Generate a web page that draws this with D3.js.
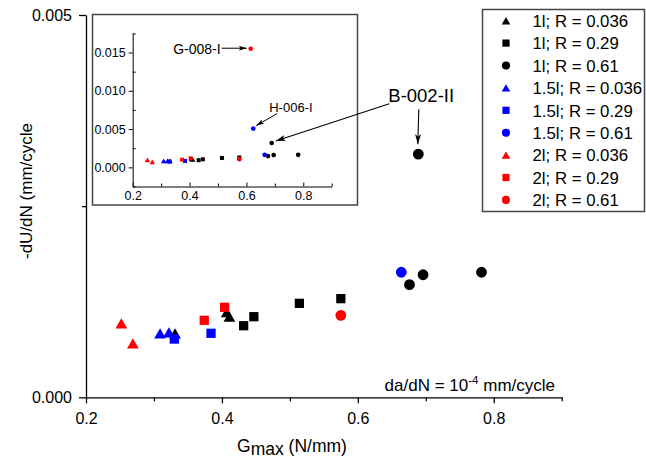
<!DOCTYPE html>
<html><head><meta charset="utf-8">
<script src="https://cdn.jsdelivr.net/npm/d3@7"></script>
<style>
html,body{margin:0;padding:0;background:#fff;}
svg{display:block;font-family:"Liberation Sans",Arial,sans-serif;}
</style></head>
<body>
<svg id="chart" width="646" height="461"></svg>
<script>
// ---- data ----
const seriesNames = ["1l; R = 0.036","1l; R = 0.29","1l; R = 0.61",
                     "1.5l; R = 0.036","1.5l; R = 0.29","1.5l; R = 0.61",
                     "2l; R = 0.036","2l; R = 0.29","2l; R = 0.61"];
const seriesColors = ["#000000","#000000","#000000","#0000ff","#0000ff","#0000ff","#ff0000","#ff0000","#ff0000"];
const seriesShapes = ["triangle","square","circle","triangle","square","circle","triangle","square","circle"];
const s1_036_x = [0.331, 0.407, 0.411];
const s1_036_y = [0.000837, 0.001112, 0.001054];
const s1_029_x = [0.432, 0.447, 0.514, 0.575];
const s1_029_y = [0.000936, 0.001054, 0.001229, 0.00129];
const s1_061_x = [0.676, 0.689, 0.696, 0.782];
const s1_061_y = [0.001473, 0.00318, 0.001603, 0.001635];
const s15_036_x = [0.309, 0.322];
const s15_036_y = [0.000837, 0.00085];
const s15_029_x = [0.330, 0.384];
const s15_029_y = [0.000762, 0.000837];
const s15_061_x = [0.624, 0.664];
const s15_061_y = [0.00507, 0.001635];
const s2_036_x = [0.252, 0.269];
const s2_036_y = [0.000968, 0.000706];
const s2_029_x = [0.374, 0.404];
const s2_029_y = [0.001007, 0.001177];
const s2_061_x = [0.575, 0.615];
const s2_061_y = [0.001072, 0.0155];
const seriesX = [s1_036_x,s1_029_x,s1_061_x,s15_036_x,s15_029_x,s15_061_x,s2_036_x,s2_029_x,s2_061_x];
const seriesY = [s1_036_y,s1_029_y,s1_061_y,s15_036_y,s15_029_y,s15_061_y,s2_036_y,s2_029_y,s2_061_y];
const mainXTicks = [0.2, 0.4, 0.6, 0.8];
const mainXMinor = [0.3, 0.5, 0.7, 0.9];
const mainYTicks = [0, 0.005];
const mainYMinor = [0.0025];
const insetXTicks = [0.2, 0.4, 0.6, 0.8];
const insetXMinor = [0.3, 0.5, 0.7, 0.9];
const insetYTicks = [0, 0.005, 0.010, 0.015];
const insetYMinor = [-0.0025, 0.0025, 0.0075, 0.0125, 0.0175];
// annotations: [series index, point index, label]
const annB = [2, 1, "B-002-II"];
const annG = [8, 1, "G-008-I"];
const annH = [5, 0, "H-006-I"];

const points = [];
seriesX.forEach((xs, si) => xs.forEach((x, i) => points.push({s: si, x: x, y: seriesY[si][i]})));

const svg = d3.select("#chart");
const symType = {triangle: d3.symbolTriangle, square: d3.symbolSquare, circle: d3.symbolCircle};
const symArea = {
  main:   {triangle: 60, square: 86, circle: 92},
  inset:  {triangle: 13, square: 16, circle: 17},
  legend: {triangle: 32, square: 52, circle: 52}
};
function symPath(shape, kind) {
  return d3.symbol(symType[shape], symArea[kind][shape])();
}
function triOffset(shape, kind) {
  if (shape !== "triangle") return 0;
  const y = Math.sqrt(symArea[kind][shape] / (Math.sqrt(3) * 3));
  return y / 2;
}

const defs = svg.append("defs");
function addMarker(id, w, h) {
  defs.append("marker").attr("id", id)
    .attr("viewBox", `0 0 ${w} ${h}`).attr("refX", w).attr("refY", h/2)
    .attr("markerWidth", w).attr("markerHeight", h)
    .attr("markerUnits", "userSpaceOnUse").attr("orient", "auto")
    .append("path").attr("d", `M0,0L${w},${h/2}L0,${h}L${w*0.25},${h/2}Z`).attr("fill", "#000");
}
addMarker("arrBig", 10, 6);
addMarker("arrSmall", 8, 5);

// ---- main chart ----
const x = d3.scaleLinear().domain([0.2, 0.9]).range([86, 561.7]);
const y = d3.scaleLinear().domain([0, 0.005]).range([397.3, 15]);

const gx = svg.append("g").attr("transform", "translate(0,397.3)");
gx.call(d3.axisBottom(x).tickValues(mainXTicks).tickSize(6).tickSizeOuter(0).tickPadding(9).tickFormat(d3.format(".1f")));
gx.append("g").call(d3.axisBottom(x).tickValues(mainXMinor).tickSize(4).tickSizeOuter(0).tickFormat(""))
  .select(".domain").remove();
const gy = svg.append("g").attr("transform", "translate(86,0)");
gy.call(d3.axisLeft(y).tickValues(mainYTicks).tickSize(7).tickSizeOuter(0).tickPadding(7).tickFormat(d3.format(".3f")));
gy.append("g").call(d3.axisLeft(y).tickValues(mainYMinor).tickSize(4).tickSizeOuter(0).tickFormat(""))
  .select(".domain").remove();
svg.selectAll(".domain, .tick line").attr("stroke", "#000").attr("stroke-width", 1.3);
gx.selectAll("text").attr("font-size", 16).attr("font-family", "Liberation Sans, Arial").attr("fill", "#000");
gy.selectAll("text").attr("font-size", 16).attr("font-family", "Liberation Sans, Arial").attr("fill", "#000");

// axis titles
const xt = svg.append("text").attr("x", 237).attr("y", 452).attr("font-size", 17.5).attr("fill", "#000");
xt.append("tspan").text("G");
xt.append("tspan").attr("dy", 3).text("max");
xt.append("tspan").attr("dy", -3).text(" (N/mm)");
svg.append("text").attr("transform", "translate(32,191) rotate(-90)")
  .attr("text-anchor", "middle").attr("font-size", 17).attr("fill", "#000")
  .text("-dU/dN  (mm/cycle");

// main points (only those inside the axis range)
const inMain = points.filter(d => d.y <= y.domain()[1] && d.y >= y.domain()[0]);
svg.append("g").selectAll("path").data(inMain).join("path")
  .attr("d", d => symPath(seriesShapes[d.s], "main"))
  .attr("transform", d => `translate(${x(d.x)},${y(d.y) + triOffset(seriesShapes[d.s], "main")})`)
  .attr("fill", d => seriesColors[d.s]);

// condition note
const note = svg.append("text").attr("x", 555).attr("y", 391).attr("text-anchor", "end")
  .attr("font-size", 17).attr("fill", "#000");
note.append("tspan").text("da/dN = 10");
note.append("tspan").attr("font-size", 11.5).attr("dy", -7).text("-4");
note.append("tspan").attr("dy", 7).text(" mm/cycle");

// ---- inset ----
svg.append("rect").attr("x", 92.5).attr("y", 14.5).attr("width", 265).attr("height", 190.5)
  .attr("fill", "#fff").attr("stroke", "#444").attr("stroke-width", 1.5);
const xi = d3.scaleLinear().domain([0.2, 0.9]).range([132.7, 331.7]);
const yi = d3.scaleLinear().domain([-0.0025, 0.0175]).range([186.5, 33.4]);
const gxi = svg.append("g").attr("transform", "translate(0,186.5)");
gxi.call(d3.axisBottom(xi).tickValues(insetXTicks).tickSize(-4).tickSizeOuter(0).tickPadding(5).tickFormat(d3.format(".1f")));
gxi.append("g").call(d3.axisBottom(xi).tickValues(insetXMinor).tickSize(-3).tickSizeOuter(0).tickFormat(""))
  .select(".domain").remove();
const gyi = svg.append("g").attr("transform", "translate(132.7,0)");
gyi.call(d3.axisLeft(yi).tickValues(insetYTicks).tickSize(4).tickSizeOuter(0).tickPadding(3).tickFormat(d3.format(".3f")));
gyi.append("g").call(d3.axisLeft(yi).tickValues(insetYMinor).tickSize(-3).tickSizeOuter(0).tickFormat(""))
  .select(".domain").remove();
[gxi, gyi].forEach(g => {
  g.selectAll(".domain, .tick line").attr("stroke", "#000").attr("stroke-width", 1);
  g.selectAll("text").attr("font-size", 12.5).attr("font-family", "Liberation Sans, Arial").attr("fill", "#000");
});
svg.append("g").selectAll("path").data(points).join("path")
  .attr("d", d => symPath(seriesShapes[d.s], "inset"))
  .attr("transform", d => `translate(${xi(d.x)},${yi(d.y) + triOffset(seriesShapes[d.s], "inset")})`)
  .attr("fill", d => seriesColors[d.s]);

// annotations
function pt(a) { return {x: seriesX[a[0]][a[1]], y: seriesY[a[0]][a[1]]}; }
const pG = pt(annG), pH = pt(annH), pB = pt(annB);
svg.append("text").attr("x", xi(pG.x) - 30).attr("y", yi(pG.y) + 5).attr("text-anchor", "end")
  .attr("font-size", 14).attr("fill", "#000").text(annG[2]);
svg.append("line").attr("x1", xi(pG.x) - 29).attr("y1", yi(pG.y) - 0.5)
  .attr("x2", xi(pG.x) - 4).attr("y2", yi(pG.y) - 0.5)
  .attr("stroke", "#000").attr("stroke-width", 1).attr("marker-end", "url(#arrSmall)");
svg.append("text").attr("x", xi(pH.x) + 16).attr("y", yi(pH.y) - 17).attr("font-size", 13)
  .attr("fill", "#000").text(annH[2]);
svg.append("line").attr("x1", xi(pH.x) + 24).attr("y1", yi(pH.y) - 15)
  .attr("x2", xi(pH.x) + 3).attr("y2", yi(pH.y) - 3)
  .attr("stroke", "#000").attr("stroke-width", 1).attr("marker-end", "url(#arrSmall)");
// B-002-II
svg.append("text").attr("x", x(pB.x) - 30).attr("y", y(pB.y) - 52).attr("font-size", 18.5)
  .attr("fill", "#000").text(annB[2]);
svg.append("line").attr("x1", x(pB.x) - 29).attr("y1", y(pB.y) - 50.5)
  .attr("x2", xi(pB.x) + 4).attr("y2", yi(pB.y) - 2)
  .attr("stroke", "#000").attr("stroke-width", 1.1).attr("marker-end", "url(#arrBig)");
svg.append("line").attr("x1", x(pB.x) + 0.5).attr("y1", y(pB.y) - 45)
  .attr("x2", x(pB.x) - 0.5).attr("y2", y(pB.y) - 10)
  .attr("stroke", "#000").attr("stroke-width", 1.1).attr("marker-end", "url(#arrBig)");

// ---- legend ----
svg.append("rect").attr("x", 482.5).attr("y", 9.5).attr("width", 162).attr("height", 202)
  .attr("fill", "#fff").attr("stroke", "#444").attr("stroke-width", 1.5);
const lg = svg.append("g").selectAll("g").data(seriesNames).join("g")
  .attr("transform", (d, i) => `translate(0,${20.7 + i * 22.4})`);
lg.append("path")
  .attr("d", (d, i) => symPath(seriesShapes[i], "legend"))
  .attr("transform", (d, i) => `translate(506,${triOffset(seriesShapes[i], "legend")})`)
  .attr("fill", (d, i) => seriesColors[i]);
lg.append("text").attr("x", 532.5).attr("y", 6.3).attr("font-size", 16.8).attr("fill", "#000").text(d => d);
</script>
</body></html>
